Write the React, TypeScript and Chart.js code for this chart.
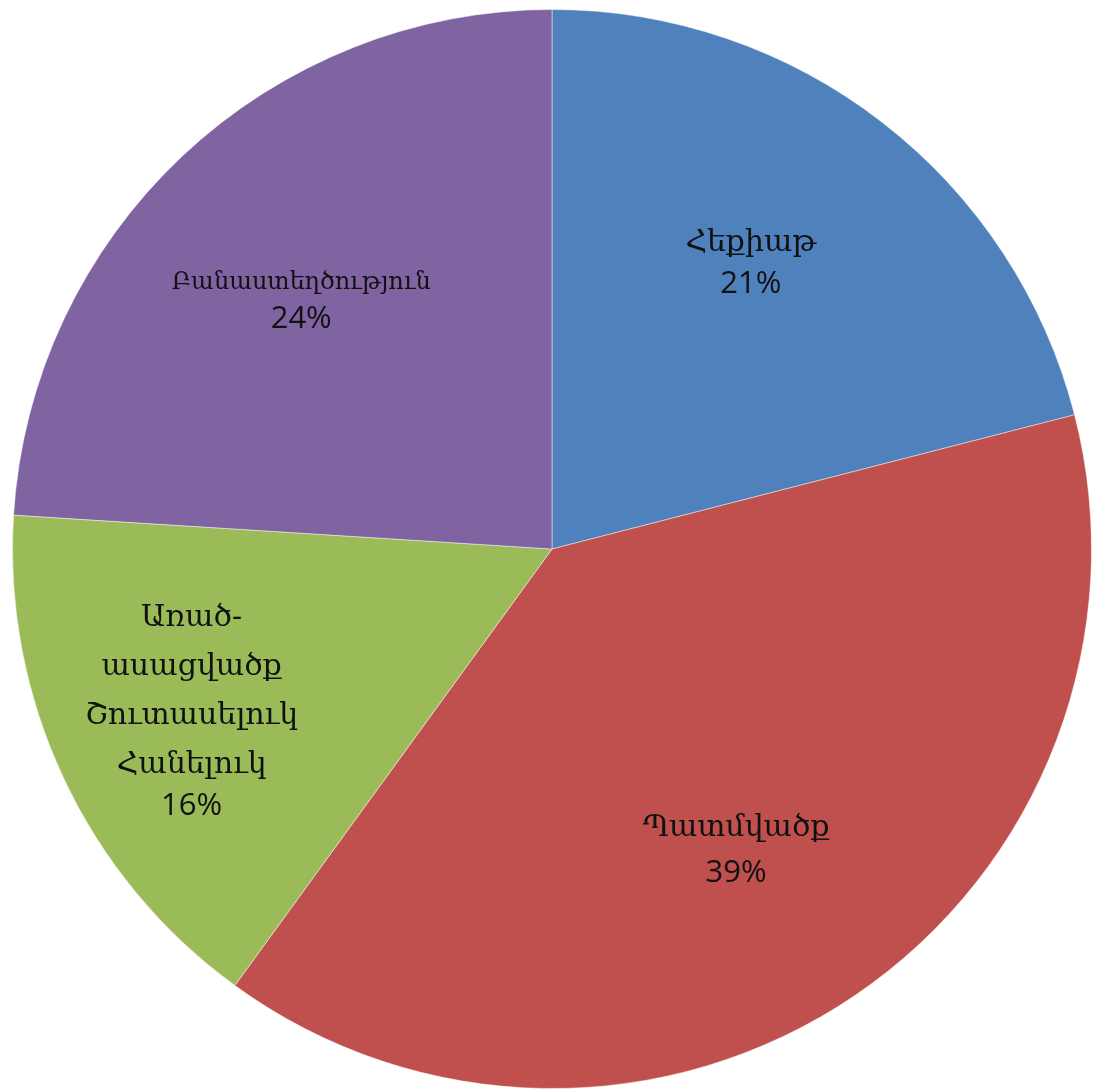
import React, { useEffect, useRef } from "react";
import { Chart, registerables } from "chart.js";

Chart.register(...registerables);

const categories = [
  "Հեքիաթ",
  "Պատմվածք",
  "Առած-\nասացվածք\nՇուտասելուկ\nՀանելուկ",
  "Բանաստեղծություն",
];
const values = [21, 39, 16, 24];
const percentLabels = ["21%", "39%", "16%", "24%"];
const colors = ["#4F81BD", "#C0504D", "#9BBB59", "#8064A2"];

// label styling: angle offset (deg) from slice middle, radial fraction, font sizes
const labelAngleOffset = [-2.9, 2.8, 0.9, -2.1];
const labelRadiusFrac = [0.644, 0.655, 0.733, 0.654];
const nameFontSize = [30, 30, 30, 24];
const nameLineGap = [49, 49, 49, 49];
const pctGap = [41, 45, 41, 37];

const labelPlugin = {
  id: "sliceLabels",
  afterDatasetsDraw(chart: any) {
    const ctx = chart.ctx as CanvasRenderingContext2D;
    const meta = chart.getDatasetMeta(0);
    meta.data.forEach((arc: any, i: number) => {
      const { x, y, startAngle, endAngle, outerRadius } = arc.getProps(
        ["x", "y", "startAngle", "endAngle", "outerRadius"],
        true
      );
      const mid = (startAngle + endAngle) / 2 + (labelAngleOffset[i] * Math.PI) / 180;
      const r = outerRadius * labelRadiusFrac[i];
      const cx = x + r * Math.cos(mid);
      const cy = y + r * Math.sin(mid);
      const lines = categories[i].split("\n");
      const total = (lines.length - 1) * nameLineGap[i] + pctGap[i];
      let yy = cy - total / 2;
      ctx.save();
      ctx.fillStyle = "#111111";
      ctx.textAlign = "center";
      ctx.textBaseline = "middle";
      ctx.font = `${nameFontSize[i]}px "DejaVu Serif", serif`;
      lines.forEach((ln, k) => {
        ctx.fillText(ln, cx, yy);
        if (k < lines.length - 1) yy += nameLineGap[i];
      });
      yy += pctGap[i];
      ctx.font = `31px "Open Sans", sans-serif`;
      ctx.fillText(percentLabels[i], cx, yy);
      ctx.restore();
    });
  },
};

export default function App() {
  const ref = useRef<HTMLCanvasElement | null>(null);
  useEffect(() => {
    document.body.style.margin = "0";
    const chart = new Chart(ref.current!, {
      type: "pie",
      data: {
        labels: categories,
        datasets: [
          {
            data: values,
            backgroundColor: colors,
            borderColor: "rgba(255,255,255,0.45)",
            borderWidth: 1,
          },
        ],
      },
      options: {
        animation: false,
        responsive: false,
        layout: { padding: { left: 11, right: 4, top: 9, bottom: 1 } },
        plugins: {
          legend: { display: false },
          tooltip: { enabled: false },
        },
      },
      plugins: [labelPlugin],
    });
    return () => chart.destroy();
  }, []);
  return (
    <div style={{ position: "absolute", left: 0, top: 0, width: 1097, height: 1090, background: "#fff" }}>
      <canvas ref={ref} width={1097} height={1090} style={{ width: 1097, height: 1090 }} />
    </div>
  );
}
